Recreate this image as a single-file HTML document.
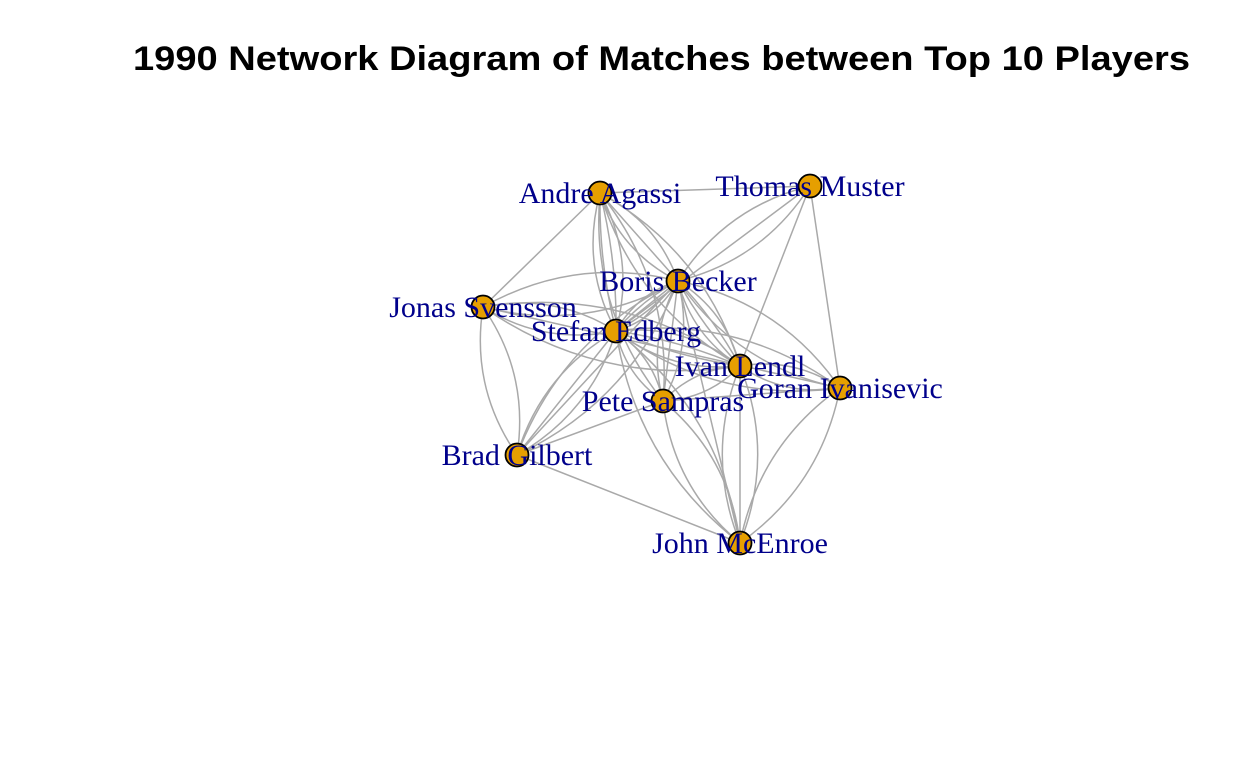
<!DOCTYPE html>
<html><head><meta charset="utf-8">
<style>
html,body{margin:0;padding:0;background:#fff;width:1248px;height:768px;overflow:hidden}
svg{display:block}
</style></head>
<body>
<svg id="chart" width="1248" height="768" viewBox="0 0 1248 768" xmlns="http://www.w3.org/2000/svg">
<text x="133" y="70" textLength="1057" lengthAdjust="spacingAndGlyphs" font-family="Liberation Sans, sans-serif" font-weight="bold" font-size="34" fill="#000">1990 Network Diagram of Matches between Top 10 Players</text>
<g id="edges"></g>
<g id="nodes"></g>
<g id="labels"></g>
</svg>
<script>
const players = ["Andre Agassi","Thomas Muster","Boris Becker","Jonas Svensson","Stefan Edberg","Ivan Lendl","Goran Ivanisevic","Pete Sampras","Brad Gilbert","John McEnroe"];
const layoutX = [600,810,678,483,616,740,840,663,517,740];
const layoutY = [193,186,281,307,331,366,388,401,455,543];
const edgeFrom = [0,0,0,0,0,0,1,1,1,1,2,2,2,2,2,2,2,3,3,3,3,4,4,4,4,4,5,5,5,7,7,7,8,6];
const edgeTo   = [1,2,4,3,5,7,2,4,5,6,3,4,5,6,7,8,9,4,5,8,6,5,7,8,9,6,6,7,9,9,8,6,9,9];
const matchCount=[1,3,4,1,2,2,2,1,1,1,2,5,4,2,3,3,1,2,2,2,1,4,2,3,2,2,2,2,3,2,1,1,1,2];

const NS="http://www.w3.org/2000/svg";
const eg=document.getElementById('edges'), ng=document.getElementById('nodes'), lg=document.getElementById('labels');
for(let e=0;e<edgeFrom.length;e++){
  const a=edgeFrom[e], b=edgeTo[e], n=matchCount[e];
  const x1=layoutX[a],y1=layoutY[a],x2=layoutX[b],y2=layoutY[b];
  const dx=x2-x1, dy=y2-y1;
  for(let k=0;k<n;k++){
    const c = n===1?0:(-0.5+k/(n-1))*0.4;
    const mx=(x1+x2)/2 - dy*c, my=(y1+y2)/2 + dx*c;
    const p=document.createElementNS(NS,'path');
    p.setAttribute('d',`M${x1},${y1} Q${mx},${my} ${x2},${y2}`);
    p.setAttribute('fill','none');p.setAttribute('stroke','#a9a9a9');p.setAttribute('stroke-width','1.5');
    
    
    eg.appendChild(p);
  }
}
for(let i=0;i<players.length;i++){
  const c=document.createElementNS(NS,'circle');
  c.setAttribute('cx',layoutX[i]);c.setAttribute('cy',layoutY[i]);c.setAttribute('r','11.5');
  c.setAttribute('fill','#E69F00');c.setAttribute('stroke','#000');c.setAttribute('stroke-width','1.8');
  
  
  ng.appendChild(c);
  const t=document.createElementNS(NS,'text');
  t.setAttribute('x',layoutX[i]);t.setAttribute('y',layoutY[i]+10);
  t.setAttribute('text-anchor','middle');t.setAttribute('font-family','Liberation Serif, serif');
  t.setAttribute('font-size','30');t.setAttribute('fill','#00008B');
  t.textContent=players[i];
  
  
  lg.appendChild(t);
}
</script>
</body></html>
